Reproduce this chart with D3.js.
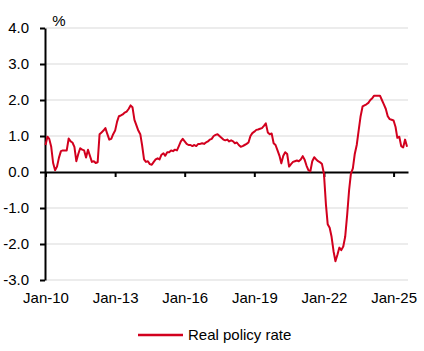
<!DOCTYPE html>
<html>
<head>
<meta charset="utf-8">
<script src="https://cdn.jsdelivr.net/npm/d3@7"></script>
<style>
  body { margin: 0; background: #fff; }
  text { font-family: "Liberation Sans", Arial, sans-serif; }
</style>
</head>
<body>
<div id="chart-area"></div>
<script>
// monthly real policy rate, Jan 2010 .. Aug 2025 (%)
var rate = [
  0.75, 0.98, 0.92, 0.7, 0.25, 0.05, 0.15, 0.4, 0.58, 0.6, 0.6, 0.6,          // 2010
  0.93, 0.85, 0.82, 0.7, 0.3, 0.5, 0.66, 0.62, 0.6, 0.4, 0.62, 0.45,          // 2011
  0.28, 0.3, 0.25, 0.27, 1.05, 1.1, 1.15, 1.22, 1.05, 0.9, 0.92, 1.05,        // 2012
  1.15, 1.4, 1.55, 1.57, 1.6, 1.65, 1.68, 1.75, 1.85, 1.8, 1.45, 1.3,         // 2013
  1.15, 1.05, 0.75, 0.35, 0.28, 0.3, 0.22, 0.2, 0.28, 0.35, 0.38, 0.35,       // 2014
  0.48, 0.52, 0.45, 0.55, 0.55, 0.6, 0.58, 0.62, 0.6, 0.72, 0.85, 0.92,       // 2015
  0.85, 0.78, 0.75, 0.75, 0.72, 0.75, 0.72, 0.78, 0.78, 0.8, 0.78, 0.82,      // 2016
  0.85, 0.9, 0.92, 1.0, 1.03, 1.05, 1.0, 0.95, 0.9, 0.88, 0.9, 0.85,          // 2017
  0.88, 0.85, 0.8, 0.82, 0.75, 0.7, 0.72, 0.75, 0.78, 0.82, 1.0, 1.08,        // 2018
  1.12, 1.17, 1.18, 1.2, 1.22, 1.28, 1.35, 1.1, 1.05, 1.07, 0.8, 0.75,        // 2019
  0.6, 0.45, 0.24, 0.45, 0.55, 0.5, 0.15, 0.22, 0.28, 0.3, 0.32, 0.3,         // 2020
  0.35, 0.44, 0.35, 0.18, 0.05, 0.02, 0.3, 0.41, 0.35, 0.3, 0.27, 0.22,       // 2021
  -0.05, -0.9, -1.45, -1.55, -1.8, -2.2, -2.48, -2.3, -2.1, -2.17, -2.07, -1.8, // 2022
  -1.2, -0.5, -0.05, 0.1, 0.5, 0.75, 1.15, 1.55, 1.82, 1.85, 1.88, 1.92,      // 2023
  2.0, 2.05, 2.12, 2.12, 2.12, 2.12, 2.0, 1.88, 1.75, 1.55, 1.47, 1.45,       // 2024
  1.43, 1.25, 0.95, 0.98, 0.72, 0.68, 0.9, 0.7                                // 2025
]
var months = rate.map((v, i) => new Date(2010, i, 1))

var yTicks = [-3, -2, -1, 0, 1, 2, 3, 4]
var xTickYears = [2010, 2013, 2016, 2019, 2022, 2025]
var seriesName = "Real policy rate"
var unitLabel = "%"

var width = 424
var height = 351
var red = "#d2001e"

var svg = d3.select("#chart-area").append("svg")
.attr("width", width)
.attr("height", height)

var x = d3.scaleTime()
.domain([new Date(2010, 0, 1), new Date(2025, 7, 16)])
.range([45.5, 408])

var y = d3.scaleLinear()
.domain([-3, 4])
.range([280, 28])

// gridlines
svg.append("g")
.selectAll("line")
.data(yTicks.filter(d => d != 0))
.enter().append("line")
.attr("x1", 45)
.attr("x2", 408)
.attr("y1", d => y(d))
.attr("y2", d => y(d))
.attr("stroke", "#d9d9d9")
.attr("stroke-width", 1)

// Y axis
var yAxis = svg.append("g")
.attr("transform", "translate(45, 0)")
.call(d3.axisLeft(y).tickValues(yTicks).tickSize(5).tickSizeOuter(0).tickPadding(11)
  .tickFormat(d => d.toFixed(1)))
yAxis.selectAll("path, line").attr("stroke", "#000").attr("stroke-width", 2)
yAxis.selectAll("text").attr("font-size", "15px").attr("fill", "#000")
  .attr("font-family", "Liberation Sans, Arial, sans-serif")

// zero line with ticks
var tickDates = xTickYears.map(yr => new Date(yr, 0, 1))
var xAxis = svg.append("g")
.attr("transform", "translate(0, " + y(0) + ")")
.call(d3.axisBottom(x).tickValues(tickDates).tickSize(5).tickSizeOuter(0).tickFormat(""))
xAxis.selectAll("path, line").attr("stroke", "#000").attr("stroke-width", 2)

// X labels at the bottom
var xLabels = svg.append("g")
.attr("transform", "translate(0, " + y(-3) + ")")
.call(d3.axisBottom(x).tickValues(tickDates).tickSize(0).tickPadding(12)
  .tickFormat(d3.timeFormat("Jan-%y")))
xLabels.select(".domain").remove()
xLabels.selectAll("text").attr("font-size", "15px").attr("fill", "#000")
  .attr("font-family", "Liberation Sans, Arial, sans-serif")

// unit
svg.append("text")
.attr("x", 59)
.attr("y", 26)
.attr("text-anchor", "middle")
.attr("font-size", "15px")
.text(unitLabel)

// line
var line = d3.line()
.x((d, i) => x(months[i]))
.y(d => y(d))

svg.append("path")
.datum(rate)
.attr("fill", "none")
.attr("stroke", red)
.attr("stroke-width", 2)
.attr("stroke-linejoin", "round")
.attr("d", line)

// legend
svg.append("line")
.attr("x1", 138)
.attr("x2", 183)
.attr("y1", 335)
.attr("y2", 335)
.attr("stroke", red)
.attr("stroke-width", 2.5)

svg.append("text")
.attr("x", 188)
.attr("y", 340)
.attr("font-size", "15px")
.style("fill", "black")
.text(seriesName)
</script>
</body>
</html>
